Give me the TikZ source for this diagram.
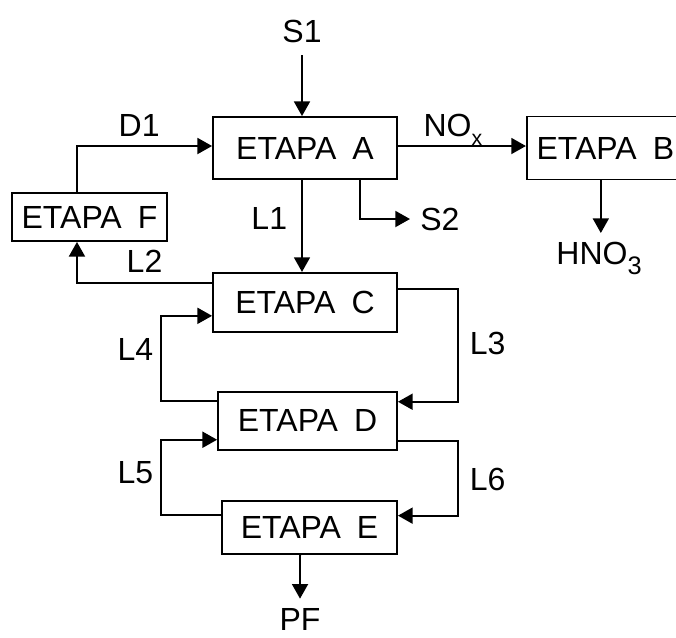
\documentclass[tikz,border=0pt]{standalone}
\usepackage{fontspec}
\setmainfont{Liberation Sans}
\usetikzlibrary{positioning,arrows.meta}

\begin{document}
\begin{tikzpicture}[x=0.75pt, y=-0.75pt]
    \tikzset{stage/.style={rectangle, draw, line width=1.4pt, inner sep=0pt, align=center, font=\fontsize{24pt}{28pt}\selectfont}}
    \tikzset{stream/.style={inner sep=0pt, font=\fontsize{24pt}{28pt}\selectfont}}
    \tikzset{tag/.style={inner sep=0pt, font=\fontsize{24pt}{28pt}\selectfont}}
    \tikzset{arrow/.style={-{Triangle[length=11pt, width=12pt]}, line width=1.4pt}}
    \useasboundingbox (0,0) rectangle (676,637);

    % Stages
    \node[stage, minimum width=138pt, minimum height=46.5pt] (A) at (305,148) {ETAPA\enspace A};
    \node[stage, minimum width=138pt, minimum height=44.25pt, below=69pt of A] (C) {ETAPA\enspace C};
    \node[stage, minimum width=134.25pt, minimum height=43.5pt, below=43.5pt of C, xshift=1.9pt] (D) {ETAPA\enspace D};
    \node[stage, minimum width=131.25pt, minimum height=39.75pt, below=36.75pt of D, xshift=1.5pt] (E) {ETAPA\enspace E};
    \node[stage, minimum width=117.75pt, minimum height=47.25pt, right=96pt of A] (B) {ETAPA\enspace B};
    \node[stage, minimum width=116.25pt, minimum height=36pt] (F) at (89.5,217) {ETAPA\enspace F};

    % Streams in and out
    \node[stream, anchor=south] (S1) at (302,43) {S1};
    \node[stream, anchor=west] (S2) at (420,219) {S2};
    \node[stream, anchor=north] (HNO) at (599,242) {HNO\raisebox{-7.5pt}{\fontsize{19pt}{19pt}\selectfont 3}};
    \node[stream, anchor=north] (PF) at (300,608) {PF};

    % Arrows
    \draw[arrow, shorten <=9pt] (S1.south) -- (S1.south |- A.north);
    \draw[arrow] ([xshift=-2.25pt]A.south) -- node[tag, left=10.5pt, pos=0.42] {L1} ([xshift=-2.25pt]C.north);
    \draw[arrow] ([yshift=1.5pt]A.east) -- node[tag, anchor=base, yshift=7.5pt, pos=0.43] {NO\raisebox{-7pt}{\fontsize{16pt}{16pt}\selectfont x}} ([yshift=1.5pt]A.east -| B.west);
    \draw[arrow, shorten >=7.5pt] ([xshift=41.25pt]A.south) |- (S2);
    \draw[arrow, shorten >=6.75pt] ([xshift=-3.4pt]B.south) -- ([xshift=-3.4pt]B.south |- HNO.north);
    \draw[arrow] ([xshift=-9.4pt]F.north) |- node[tag, above=6.75pt, pos=0.73] {D1} ([yshift=1.5pt]A.west);
    \draw[arrow] ([yshift=14.6pt]C.west) -| node[tag, above=6.75pt, pos=0.25] {L2} ([xshift=-9.4pt]F.south);

    % Loops C-D-E
    \draw[arrow] ([yshift=10.1pt]C.east) -- ++(60,0) |- node[tag, right=8.25pt, pos=0.24] {L3} ([yshift=14.25pt]D.east);
    \draw[arrow] ([yshift=15pt]D.west) -- ++(-56,0) |- node[tag, left=5.25pt, pos=0.3] {L4} ([yshift=-10.1pt]C.west);
    \draw[arrow] ([yshift=9.4pt]E.west) -- ++(-60,0) |- node[tag, left=5.25pt, pos=0.28] {L5} ([yshift=-14.25pt]D.west);
    \draw[arrow] ([yshift=-15pt]D.east) -- ++(60,0) |- node[tag, right=8.25pt, pos=0.26] {L6} ([yshift=8.6pt]E.east);
    \draw[arrow, shorten >=7pt] ([xshift=-7.1pt]E.south) -- (PF.north);
\end{tikzpicture}
\end{document}
